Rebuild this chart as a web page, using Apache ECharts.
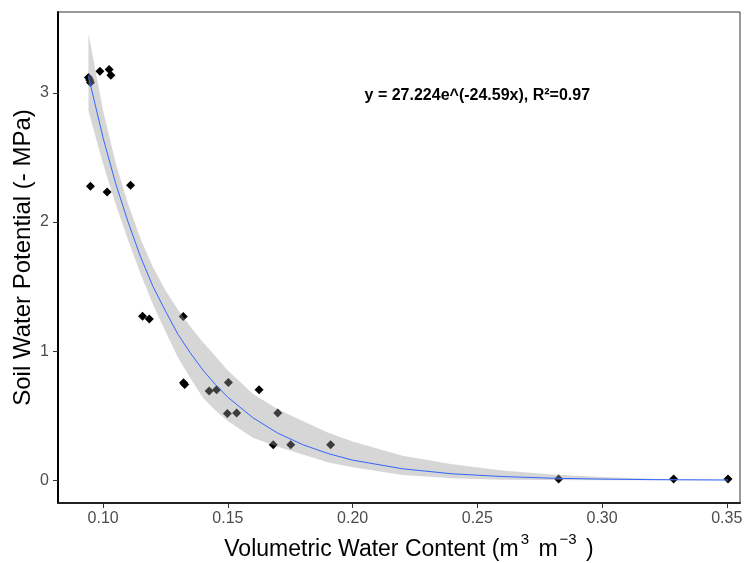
<!DOCTYPE html>
<html>
<head>
<meta charset="utf-8">
<script src="https://cdn.jsdelivr.net/npm/echarts@6/dist/echarts.min.js"></script>
<style>html,body{margin:0;padding:0;background:#fff}#c{width:748px;height:563px}</style>
</head>
<body>
<div id="c"></div>
<script>
// Observed points
const pointX = [0.0941, 0.0946, 0.0949, 0.0987, 0.1024, 0.1031, 0.0949, 0.1016, 0.1110,
  0.1158, 0.1185, 0.1321, 0.1322, 0.1327, 0.1425, 0.1455, 0.1502, 0.1625, 0.1498, 0.1535,
  0.1700, 0.1682, 0.1752, 0.1912, 0.2826, 0.3287, 0.3505];
const pointY = [3.12, 3.10, 3.08, 3.168, 3.181, 3.137, 2.277, 2.233, 2.285,
  1.270, 1.249, 1.268, 0.755, 0.742, 0.692, 0.702, 0.757, 0.702, 0.517, 0.521,
  0.521, 0.276, 0.276, 0.276, 0.01, 0.01, 0.01];

// Fitted curve and confidence band
const curveX = [0.0941, 0.100, 0.105, 0.110, 0.115, 0.120, 0.125, 0.130, 0.135, 0.140, 0.145, 0.150,
  0.160, 0.170, 0.180, 0.190, 0.200, 0.220, 0.240, 0.260, 0.280, 0.300, 0.320, 0.3505];
const curveY = [3.13, 2.65, 2.30, 2.00, 1.73, 1.50, 1.31, 1.13, 0.985, 0.854, 0.741, 0.643,
  0.485, 0.365, 0.276, 0.208, 0.156, 0.089, 0.050, 0.029, 0.016, 0.009, 0.005, 0.002];
const bandLo = [2.86, 2.45, 2.14, 1.86, 1.60, 1.36, 1.15, 0.95, 0.79, 0.64, 0.54, 0.46,
  0.33, 0.26, 0.20, 0.14, 0.10, 0.04, 0.015, 0.005, 0.002, 0.001, 0.001, 0.001];
const bandHi = [3.46, 2.86, 2.46, 2.14, 1.87, 1.65, 1.47, 1.32, 1.19, 1.07, 0.96, 0.85,
  0.67, 0.55, 0.46, 0.37, 0.30, 0.19, 0.125, 0.075, 0.045, 0.025, 0.012, 0.004];

// Axis ticks
const xTicks = [0.10, 0.15, 0.20, 0.25, 0.30, 0.35];
const xTickLabels = ['0.10', '0.15', '0.20', '0.25', '0.30', '0.35'];
const yTicks = [0, 1, 2, 3];
const yTickLabels = ['0', '1', '2', '3'];

const annotation = 'y = 27.224e^(-24.59x), R\u00b2=0.97';
const annotationPos = [0.25, 2.98];

const FONT = '"Liberation Sans", Arial, sans-serif';
const chart = echarts.init(document.getElementById('c'), null, {renderer: 'canvas'});

const option = {
  animation: false,
  backgroundColor: '#fff',
  grid: {left: 58, right: 8, top: 12, bottom: 60, containLabel: false, outerBoundsMode: 'none',
    show: true, borderColor: '#333', borderWidth: 1, backgroundColor: 'transparent'},
  xAxis: {
    type: 'value', min: 0.0819, max: 0.3553,
    splitLine: {show: false},
    axisLine: {onZero: false, lineStyle: {color: '#222', width: 2}},
    axisTick: {show: true, length: 5, lineStyle: {color: '#333', width: 1}, customValues: xTicks},
    axisLabel: {customValues: xTicks, formatter: v => xTickLabels[xTicks.findIndex(t => Math.abs(t - v) < 1e-9)] || '',
      color: '#4d4d4d', fontSize: 16, fontFamily: FONT, margin: 8},
    name: '{a|Volumetric Water Content (m}{s|3}{a| m}{s|\u22123}{a| )}',
    nameLocation: 'middle', nameGap: 25,
    nameTextStyle: {
      padding: [0, 0, 0, 20],
      rich: {
        a: {fontSize: 23, fontFamily: FONT, color: '#000', lineHeight: 36},
        s: {fontSize: 15, fontFamily: FONT, color: '#000', verticalAlign: 'top', lineHeight: 16, padding: [0, 3, 0, 2]}
      }
    }
  },
  yAxis: {
    type: 'value', min: -0.176, max: 3.627,
    splitLine: {show: false},
    axisLine: {onZero: false, lineStyle: {color: '#000', width: 2}},
    axisTick: {show: true, length: 5, lineStyle: {color: '#333', width: 1}, customValues: yTicks},
    axisLabel: {customValues: yTicks, formatter: v => yTickLabels[yTicks.findIndex(t => Math.abs(t - v) < 1e-9)] || '',
      color: '#4d4d4d', fontSize: 16, fontFamily: FONT, margin: 9},
    name: 'Soil Water Potential (- MPa)',
    nameLocation: 'middle', nameGap: 23, nameMoveOverlap: false,
    nameTextStyle: {fontSize: 24, fontFamily: FONT, color: '#000'}
  },
  series: [
    {
      type: 'scatter', z: 2,
      data: pointX.map((x, i) => [x, pointY[i]]),
      symbol: 'diamond', symbolSize: 9,
      itemStyle: {color: '#000', opacity: 1}
    },
    {
      type: 'custom', z: 3,
      data: [[curveX[0], curveY[0]]],
      renderItem: function (params, api) {
        const pts = [];
        for (let i = 0; i < curveX.length; i++) pts.push(api.coord([curveX[i], bandHi[i]]));
        for (let i = curveX.length - 1; i >= 0; i--) pts.push(api.coord([curveX[i], bandLo[i]]));
        return {type: 'polygon', shape: {points: pts, smooth: 0}, style: {fill: 'rgba(153,153,153,0.4)', stroke: null}};
      }
    },
    {
      type: 'line', z: 4,
      data: curveX.map((x, i) => [x, curveY[i]]),
      showSymbol: false, smooth: false,
      lineStyle: {color: '#3366FF', width: 1}
    }
  ]
};
chart.setOption(option);
const p = chart.convertToPixel({gridIndex: 0}, annotationPos);
chart.setOption({
  graphic: [{
    type: 'text', x: p[0], y: p[1], z: 10,
    style: {text: annotation, fontSize: 16, fontWeight: 'bold', fontFamily: FONT, fill: '#000', align: 'center', verticalAlign: 'middle'}
  }]
});
</script>
</body>
</html>
